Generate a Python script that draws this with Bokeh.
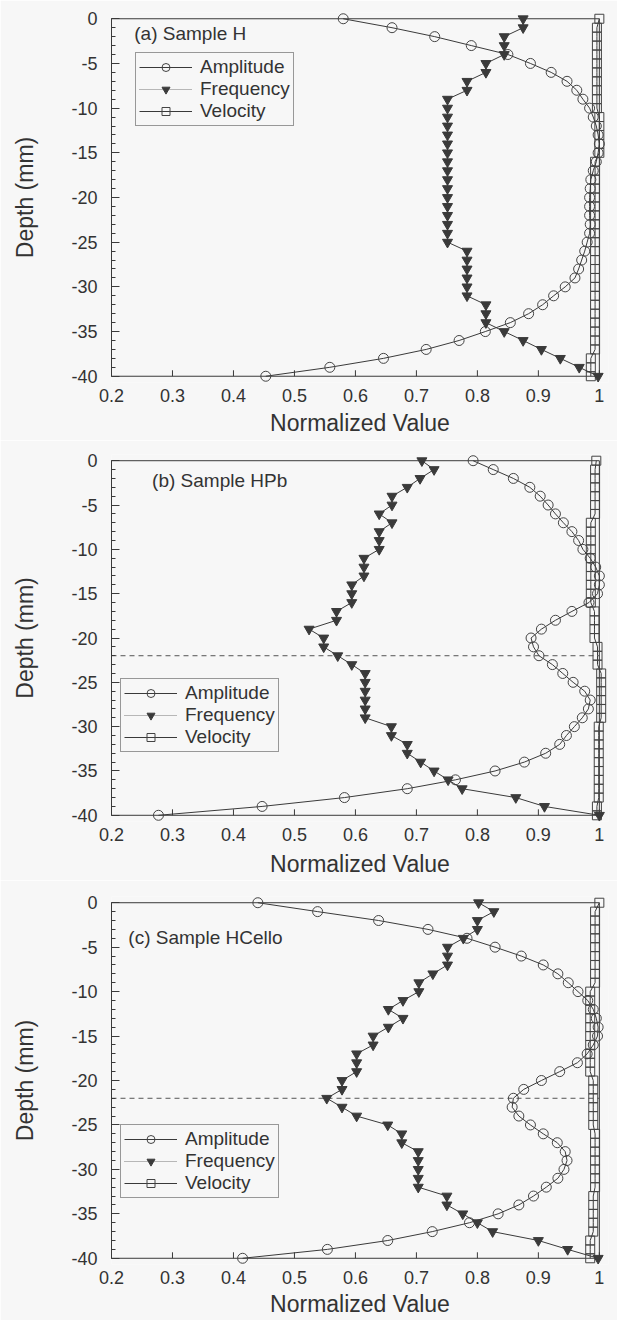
import math
from bokeh.plotting import figure
from bokeh.layouts import column
from bokeh.models import (Range1d, FixedTicker, Legend, LegendItem, Label,
                          CustomJSTickFormatter, ColumnDataSource)
from bokeh.embed import file_html
from bokeh.resources import INLINE

# ---------------- data ----------------
depth = [0, -1, -2, -3, -4, -5, -6, -7, -8, -9, -10, -11, -12, -13, -14, -15, -16, -17, -18, -19, -20,
         -21, -22, -23, -24, -25, -26, -27, -28, -29, -30, -31, -32, -33, -34, -35, -36, -37, -38, -39, -40]

x_ticks = [0.2, 0.3, 0.4, 0.5, 0.6, 0.7, 0.8, 0.9, 1.0]
y_ticks = [0, -5, -10, -15, -20, -25, -30, -35, -40]

amp_H = [0.58, 0.66, 0.73, 0.79, 0.85, 0.887, 0.921, 0.947, 0.963, 0.973, 0.984, 0.99, 0.995, 0.998, 1.0,
         0.998, 0.995, 0.99, 0.986, 0.985, 0.984, 0.984, 0.984, 0.985, 0.984, 0.98, 0.976, 0.971, 0.966,
         0.96, 0.944, 0.925, 0.907, 0.884, 0.854, 0.813, 0.77, 0.716, 0.646, 0.558, 0.453]
freq_H = [0.875, 0.875, 0.844, 0.844, 0.844, 0.814, 0.814, 0.783, 0.783, 0.751, 0.751, 0.751, 0.751,
          0.751, 0.751, 0.751, 0.751, 0.751, 0.751, 0.751, 0.751, 0.751, 0.751, 0.751, 0.751, 0.751,
          0.783, 0.783, 0.783, 0.783, 0.783, 0.783, 0.814, 0.814, 0.814, 0.844, 0.875, 0.905, 0.936,
          0.967, 0.998]
vel_H = [1.0, 0.996, 0.996, 0.996, 0.996, 0.996, 0.996, 0.996, 0.996, 0.996, 0.996, 1.0, 1.0, 1.0, 1.0,
         1.0, 0.993, 0.993, 0.993, 0.993, 0.993, 0.993, 0.993, 0.993, 0.993, 0.993, 0.993, 0.993, 0.993,
         0.993, 0.993, 0.993, 0.993, 0.993, 0.993, 0.993, 0.993, 0.993, 0.986, 0.986, 0.986]

amp_HPb = [0.793, 0.826, 0.859, 0.886, 0.903, 0.916, 0.928, 0.941, 0.955, 0.966, 0.973, 0.985, 0.994,
           1.0, 1.0, 0.997, 0.983, 0.955, 0.928, 0.905, 0.888, 0.892, 0.901, 0.923, 0.940, 0.957, 0.976,
           0.985, 0.982, 0.972, 0.959, 0.946, 0.935, 0.912, 0.877, 0.829, 0.764, 0.685, 0.582, 0.447,
           0.277]
freq_HPb = [0.709, 0.729, 0.706, 0.685, 0.660, 0.660, 0.639, 0.660, 0.639, 0.639, 0.639, 0.614, 0.614,
            0.614, 0.594, 0.594, 0.594, 0.569, 0.569, 0.524, 0.548, 0.548, 0.571, 0.594, 0.616, 0.616,
            0.616, 0.616, 0.616, 0.616, 0.659, 0.659, 0.685, 0.685, 0.707, 0.729, 0.752, 0.775, 0.863,
            0.910, 1.0]
vel_HPb = [0.995, 0.993, 0.993, 0.993, 0.993, 0.993, 0.993, 0.986, 0.986, 0.986, 0.986, 0.986, 0.986,
           0.986, 0.986, 0.986, 0.986, 0.992, 0.992, 0.992, 0.992, 0.997, 0.997, 0.997, 1.003, 1.003,
           1.003, 1.003, 1.003, 1.003, 0.999, 0.999, 0.999, 0.999, 0.999, 0.999, 0.999, 0.999, 0.999,
           0.996, 0.996]

amp_HCello = [0.440, 0.538, 0.638, 0.719, 0.783, 0.829, 0.872, 0.908, 0.932, 0.949, 0.965, 0.981, 0.99,
              0.995, 0.998, 0.997, 0.99, 0.98, 0.964, 0.935, 0.905, 0.876, 0.859, 0.857, 0.868, 0.887,
              0.908, 0.931, 0.944, 0.947, 0.942, 0.932, 0.913, 0.892, 0.868, 0.834, 0.787, 0.726, 0.653,
              0.554, 0.415]
freq_HCello = [0.802, 0.827, 0.800, 0.800, 0.777, 0.751, 0.751, 0.751, 0.727, 0.704, 0.704, 0.678, 0.654,
               0.678, 0.654, 0.629, 0.629, 0.602, 0.602, 0.602, 0.578, 0.578, 0.553, 0.578, 0.602, 0.653,
               0.676, 0.676, 0.703, 0.703, 0.703, 0.703, 0.703, 0.750, 0.750, 0.776, 0.800, 0.825, 0.900,
               0.948, 0.998]
vel_HCello = [1.0, 0.993, 0.993, 0.993, 0.993, 0.993, 0.993, 0.993, 0.993, 0.993, 0.985, 0.985, 0.985,
              0.985, 0.985, 0.985, 0.985, 0.985, 0.985, 0.985, 0.99, 0.99, 0.99, 0.99, 0.99, 0.99, 0.993,
              0.993, 0.993, 0.993, 0.993, 0.993, 0.993, 0.99, 0.99, 0.99, 0.99, 0.99, 0.985, 0.985, 0.985]

titles = ["(a)  Sample H", "(b) Sample HPb", "(c) Sample HCello"]
interface_depth = [None, -22, -22]

# ---------------- style ----------------
FONT = "Liberation Sans"
BG = "#f7f7f7"
INK = "#3a3a3a"
TXT = "#333333"


def make_panel(title, amp, freq, vel, dash_depth, left, d0, d40, leg_left, leg_bottom,
               title_dx, title_dy, lab_standoff):
    pxmm = (d40 - d0) / 40.0
    pad = 0.7
    pad_px = pad * pxmm
    top = d0 - pad_px
    frame_bottom = d40 + pad_px
    frame_h = frame_bottom - top
    bottom = 440 - top - frame_h
    x_end = 1.015
    pxu = 615.5
    frame_w = (x_end - x_ticks[0]) * pxu
    right = 617 - left - frame_w

    p = figure(width=617, height=440,
               x_range=Range1d(x_ticks[0], x_end),
               y_range=Range1d(y_ticks[-1] - pad, y_ticks[0] + pad),
               min_border_left=int(left), min_border_right=int(round(right)),
               min_border_top=int(round(top)), min_border_bottom=int(round(bottom)),
               output_backend="svg", toolbar_location=None,
               background_fill_color=BG, border_fill_color=BG, outline_line_color=None)
    p.xgrid.visible = False
    p.ygrid.visible = False

    xa = p.xaxis[0]
    xa.ticker = FixedTicker(ticks=x_ticks)
    xa.formatter = CustomJSTickFormatter(code="return tick >= 0.999 ? '1' : tick.toFixed(1);")
    xa.axis_line_color = None
    xa.major_tick_line_color = None
    xa.minor_tick_line_color = None
    xa.major_tick_in = 0
    xa.major_tick_out = 0
    xa.minor_tick_in = 0
    xa.minor_tick_out = 0
    xa.major_label_standoff = 6
    xa.major_label_text_font_size = "18px"
    xa.major_label_text_font = FONT
    xa.major_label_text_color = TXT
    xa.axis_label = "Normalized Value"
    xa.axis_label_text_font = FONT
    xa.axis_label_text_font_size = "23px"
    xa.axis_label_text_font_style = "normal"
    xa.axis_label_text_color = TXT
    xa.axis_label_standoff = lab_standoff

    ya = p.yaxis[0]
    ya.ticker = FixedTicker(ticks=y_ticks, minor_ticks=depth)
    ya.formatter = CustomJSTickFormatter(code="return String(tick);")
    ya.bounds = (y_ticks[-1], y_ticks[0])
    ya.major_tick_in = 8
    ya.major_tick_out = 0
    ya.minor_tick_in = 4
    ya.minor_tick_out = 0
    ya.major_label_standoff = 14
    ya.major_label_text_font_size = "18px"
    ya.major_label_text_font = FONT
    ya.major_label_text_color = TXT
    ya.axis_line_color = INK
    ya.major_tick_line_color = INK
    ya.minor_tick_line_color = INK
    ya.axis_label = "Depth (mm)"
    ya.axis_label_text_font = FONT
    ya.axis_label_text_font_size = "23px"
    ya.axis_label_text_font_style = "normal"
    ya.axis_label_text_color = TXT
    ya.axis_label_standoff = 30

    # frame: bottom axis line with inward ticks, top and right edges
    y_bot, y_top = y_ticks[-1], y_ticks[0]
    tick_len = 6 / pxmm
    p.line([x_ticks[0], x_ticks[-1]], [y_bot, y_bot], line_color=INK, line_width=1)
    p.segment(x0=x_ticks, y0=[y_bot] * len(x_ticks), x1=x_ticks, y1=[y_bot + tick_len] * len(x_ticks),
              line_color=INK, line_width=1)
    p.line([x_ticks[0], x_ticks[-1]], [y_top, y_top], line_color=INK, line_width=1)
    p.line([x_ticks[-1], x_ticks[-1]], [y_bot, y_top], line_color=INK, line_width=1)

    if dash_depth is not None:
        p.line([x_ticks[0], x_ticks[-1]], [dash_depth, dash_depth], line_color="#555555",
               line_width=1, line_dash="5 4")

    src = ColumnDataSource(dict(depth=depth, amp=amp, freq=freq, vel=vel))

    lv = p.line("vel", "depth", source=src, line_color=INK, line_width=1)
    mv = p.scatter("vel", "depth", source=src, marker="square", size=9,
                   fill_color=None, line_color="#444444", line_width=1)
    la = p.line("amp", "depth", source=src, line_color=INK, line_width=1)
    ma = p.scatter("amp", "depth", source=src, marker="circle", size=10,
                   fill_color=None, line_color="#444444", line_width=1)
    lf = p.line("freq", "depth", source=src, line_color=INK, line_width=1)
    mf = p.scatter("freq", "depth", source=src, marker="inverted_triangle", size=10,
                   fill_color="#3a3a3a", line_color="#3a3a3a", line_width=1)

    # legend-only dotted line for Frequency
    fdot = p.line([float("nan")], [float("nan")], line_color="#777777", line_width=1, line_dash="1 1")

    items = [LegendItem(label="Amplitude", renderers=[la, ma]),
             LegendItem(label="Frequency", renderers=[fdot, mf]),
             LegendItem(label="Velocity", renderers=[lv, mv])]
    leg = Legend(items=items,
                 location=(int(round(leg_left - left)), int(round(frame_bottom - leg_bottom))),
                 border_line_color=INK, border_line_width=1,
                 background_fill_color=BG, background_fill_alpha=1.0,
                 label_text_font=FONT, label_text_font_size="19px", label_text_color=TXT,
                 glyph_width=53, glyph_height=20, label_height=20, label_standoff=8,
                 spacing=0, padding=3, margin=0)
    p.add_layout(leg, "center")

    p.add_layout(Label(x=x_ticks[0] + title_dx / pxu, y=y_ticks[0] - title_dy / pxmm, text=title,
                       text_baseline="middle", text_align="left", text_font=FONT,
                       text_font_size="19px", text_color=TXT))
    return p


pa = make_panel(titles[0], amp_H, freq_H, vel_H, interface_depth[0],
                left=106, d0=18, d40=376, leg_left=130, leg_bottom=126,
                title_dx=23, title_dy=15, lab_standoff=5)
pb = make_panel(titles[1], amp_HPb, freq_HPb, vel_HPb, interface_depth[1],
                left=111, d0=20, d40=375, leg_left=120, leg_bottom=312,
                title_dx=41, title_dy=20, lab_standoff=7)
pc = make_panel(titles[2], amp_HCello, freq_HCello, vel_HCello, interface_depth[2],
                left=108, d0=22, d40=378, leg_left=117, leg_bottom=318,
                title_dx=17, title_dy=35, lab_standoff=4)

layout = column(pa, pb, pc, spacing=0)
open("out.html", "w").write(file_html(layout, INLINE))
